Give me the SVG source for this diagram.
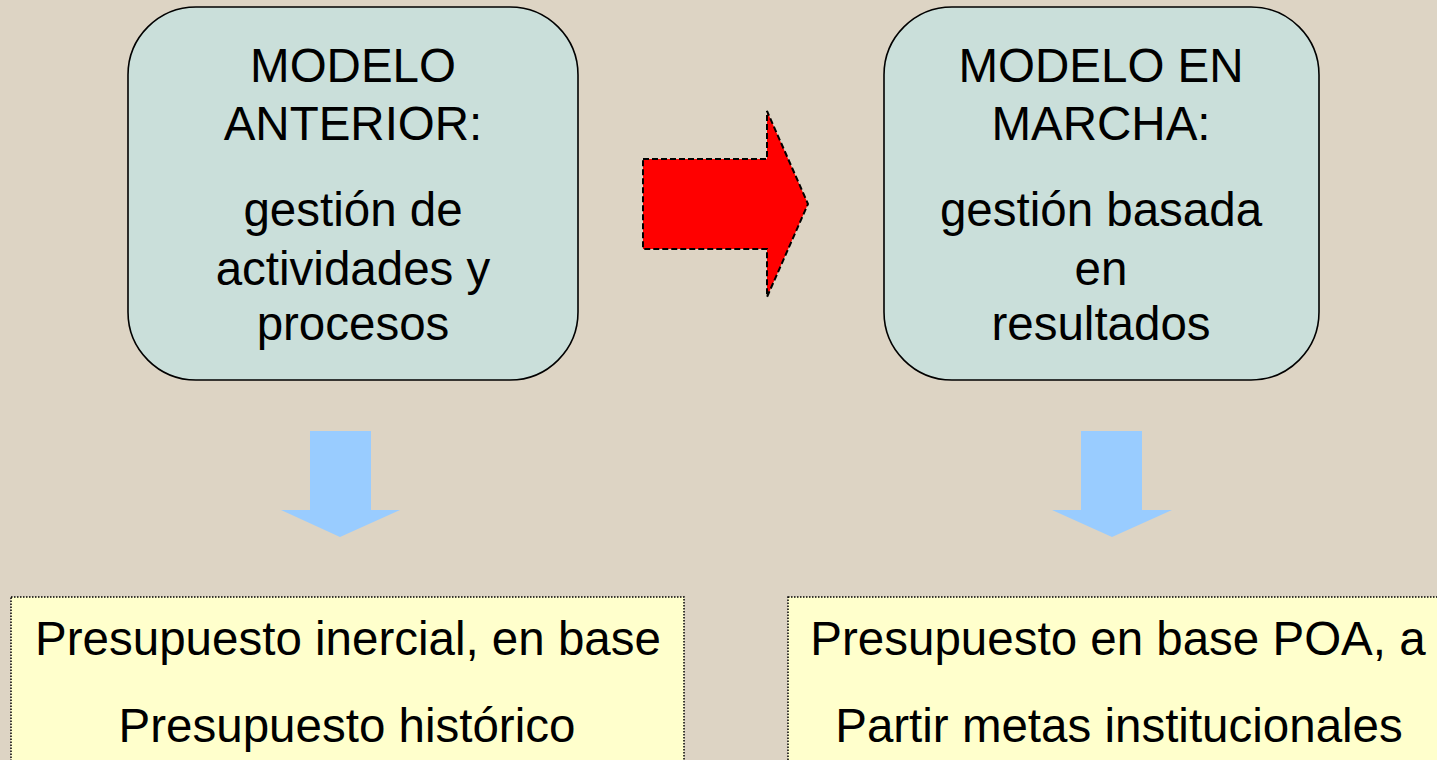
<svg xmlns="http://www.w3.org/2000/svg" width="1437" height="760" viewBox="0 0 1437 760">
<style>
.bg{fill:#DDD4C4}
.model{fill:#CADFDA;stroke:#000;stroke-width:1.6}
.budget{fill:#FFFFCC;stroke:#000;stroke-width:1.5;stroke-dasharray:1.5 1.5}
.t{font-family:"Liberation Sans",Arial,sans-serif;font-size:47.5px;fill:#000;text-anchor:middle}
.blue{fill:#99CCFF}
.red{fill:#FF0000;stroke:#000;stroke-width:2;stroke-dasharray:6 3}
</style>
<rect class="bg" x="0" y="0" width="1437" height="760"/>
<g id="model-anterior">
<rect class="model" x="128" y="7" width="450" height="373" rx="68" ry="68"/>
<text class="t" x="353" y="82">MODELO</text>
<text class="t" x="353" y="140">ANTERIOR:</text>
<text class="t" x="353" y="226">gestión de</text>
<text class="t" x="353" y="285">actividades y</text>
<text class="t" x="353" y="340">procesos</text>
</g>
<g id="model-en-marcha">
<rect class="model" x="884" y="7" width="435" height="373" rx="68" ry="68"/>
<text class="t" x="1101" y="82">MODELO EN</text>
<text class="t" x="1101" y="140">MARCHA:</text>
<text class="t" x="1101" y="226">gestión basada</text>
<text class="t" x="1101" y="285">en</text>
<text class="t" x="1101" y="340">resultados</text>
</g>
<g id="presupuesto-inercial">
<rect class="budget" x="11" y="597" width="673" height="180"/>
<text class="t" x="348" y="655">Presupuesto inercial, en base</text>
<text class="t" x="347" y="742">Presupuesto histórico</text>
</g>
<g id="presupuesto-poa">
<rect class="budget" x="788" y="597" width="680" height="180"/>
<text class="t" x="1118" y="655">Presupuesto en base POA, a</text>
<text class="t" x="1119" y="742">Partir metas institucionales</text>
</g>
<g id="connectors">
<polygon class="red" points="643,159 767,159 767,111 808,204 767,297 767,249 643,249"/>
<polygon class="blue" points="310,431 371,431 371,510 400,510 340,537 281,510 310,510"/>
<polygon class="blue" points="1081,431 1142,431 1142,510 1172,510 1112,537 1052,510 1081,510"/>
</g>
</svg>
